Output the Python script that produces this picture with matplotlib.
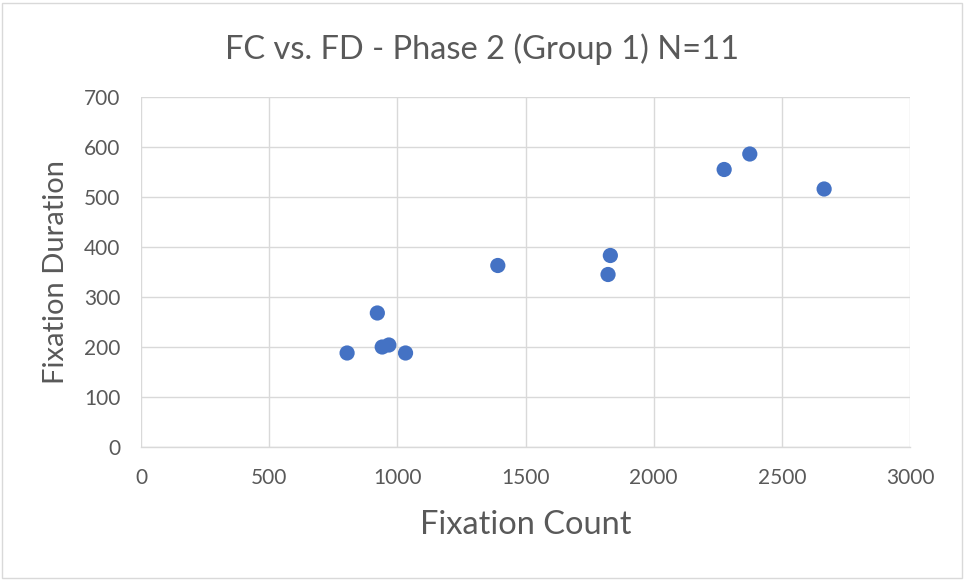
import matplotlib
matplotlib.use("Agg")
import matplotlib.pyplot as plt
from matplotlib.patches import Rectangle

# Fixation count vs fixation duration, phase 2, group 1
fixation_count = [804, 922, 941, 967, 1032, 1392, 1822, 1831, 2275, 2375, 2665]
fixation_duration = [188, 268, 200, 204, 188, 363, 345, 383, 555, 586, 516]

x_ticks = [0, 500, 1000, 1500, 2000, 2500, 3000]
y_ticks = [0, 100, 200, 300, 400, 500, 600, 700]

title = "FC vs. FD - Phase 2 (Group 1) N=11"
x_label = "Fixation Count"
y_label = "Fixation Duration"

text_color = "#595959"
grid_color = "#D9D9D9"
marker_color = "#4472C4"

W, H = 964, 580
plt.rcParams["font.family"] = ["Lato", "DejaVu Sans"]

fig = plt.figure(figsize=(W / 100, H / 100), dpi=100)
ax = fig.add_axes([141 / W, 1 - 447 / H, (910 - 141) / W, (447 - 97) / H])

# chart border
fig.patches.append(Rectangle((2 / W, 2 / H), 960 / W, 575 / H,
                             transform=fig.transFigure, fill=False,
                             edgecolor="#D9D9D9", linewidth=1.0))

ax.scatter(fixation_count, fixation_duration, s=120, color=marker_color,
           edgecolors="none", zorder=3)

ax.set_xlim(x_ticks[0], x_ticks[-1])
ax.set_ylim(y_ticks[0], y_ticks[-1])
ax.set_xticks(x_ticks)
ax.set_yticks(y_ticks)
ax.grid(True, color=grid_color, linewidth=1.0)
ax.set_axisbelow(True)

for side in ["left", "right", "top"]:
    ax.spines[side].set_visible(False)
ax.spines["bottom"].set_color(grid_color)
ax.spines["bottom"].set_linewidth(1.0)

ax.tick_params(axis="both", length=0, labelsize=15, labelcolor=text_color)
ax.tick_params(axis="y", pad=15)
ax.tick_params(axis="x", pad=15)

# title and axis titles
fig.text(482 / W, 1 - 59 / H, title, fontsize=23.5, color=text_color,
         ha="center", va="baseline")
fig.text(526 / W, 1 - 534 / H, x_label, fontsize=23.5, color=text_color,
         ha="center", va="baseline")
fig.text(56 / W, 1 - 272 / H, y_label, fontsize=21, color=text_color,
         ha="center", va="center", rotation=90)

fig.savefig("out.png", dpi=100, facecolor="white")
